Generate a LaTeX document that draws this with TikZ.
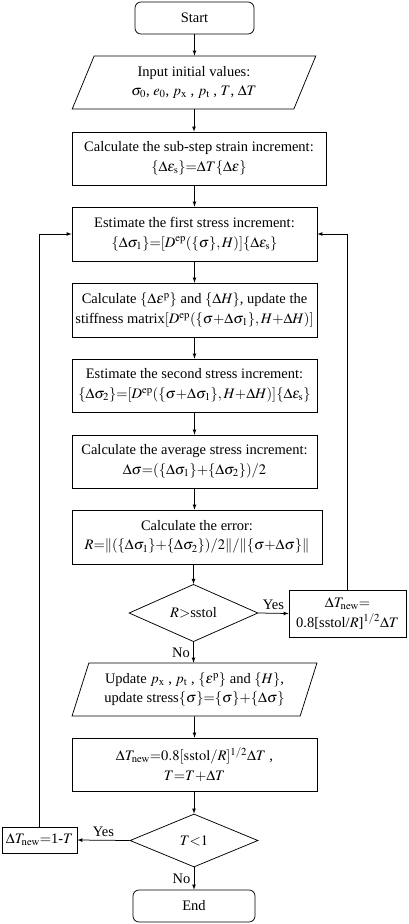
\documentclass[tikz,border=0pt]{standalone}
\usepackage{mathptmx}
\usepackage[no-math]{fontspec}
\setmainfont{Liberation Serif}
\usepackage{tikz}
\usetikzlibrary{positioning, shapes.geometric}

\begin{document}
\begin{tikzpicture}[x=1pt,y=-1pt,>=latex,line width=0.75pt]
	\tikzstyle{txt}=[font=\fontsize{14.5}{19.5}\selectfont]
	\tikzstyle{box}=[txt,rectangle,draw=black,align=center,inner sep=1pt]
	\tikzstyle{term}=[box,rounded corners=6pt]
	\tikzstyle{io}=[txt,trapezium,trapezium left angle=68,trapezium right angle=112,trapezium stretches=true,draw=black,align=center,inner sep=1pt]
	\tikzstyle{test}=[txt,diamond,draw=black,inner sep=0pt]
	\useasboundingbox (0,0) rectangle (408,924);
	\node[term,minimum width=119,minimum height=32](start) at (194.5,18) {Start};
	\node[io,minimum width=244,minimum height=53](input) at (194,82.5) {Input initial values:\\ $\sigma_0$, $e_0$, $p_\mathrm{x}$ , $p_\mathrm{t}$ , $T$, $\Delta T$};
	\node[box,minimum width=254,minimum height=53](sub) at (199,158.5) {Calculate the sub-step strain increment:\\ $\{\Delta\varepsilon_\mathrm{s}\}{=}\Delta T\{\Delta\varepsilon\}$};
	\node[box,minimum width=245,minimum height=54](est1) at (194.5,234) {Estimate the first stress increment:\\ $\{\Delta\sigma_1\}{=}[D^\mathrm{ep}(\{\sigma\},H)]\{\Delta\varepsilon_\mathrm{s}\}$};
	\node[box,minimum width=245,minimum height=54](upd1) at (194.5,310) {Calculate $\{\Delta\varepsilon^\mathrm{p}\}$ and $\{\Delta H\}$, update the\\ stiffness matrix$[D^\mathrm{ep}(\{\sigma{+}\Delta\sigma_1\},H{+}\Delta H)]$};
	\node[box,minimum width=245,minimum height=53](est2) at (194.5,385.5) {Estimate the second stress increment:\\ $\{\Delta\sigma_2\}{=}[D^\mathrm{ep}(\{\sigma{+}\Delta\sigma_1\},H{+}\Delta H)]\{\Delta\varepsilon_\mathrm{s}\}$};
	\node[box,minimum width=245,minimum height=53](avg) at (194.5,461.5) {Calculate the average stress increment:\\ $\Delta\sigma{=}(\{\Delta\sigma_1\}{+}\{\Delta\sigma_2\})/2$};
	\node[box,minimum width=250,minimum height=54](err) at (197,537) {Calculate the error:\\ $R{=}\|(\{\Delta\sigma_1\}{+}\{\Delta\sigma_2\})/2\|/\|\{\sigma{+}\Delta\sigma\}\|$};
	\node[test,minimum width=129,minimum height=52](chk1) at (193.5,613) {$R{>}$sstol};
	\node[box,minimum width=117,minimum height=47](newT1) at (347.5,613.5) {$\Delta T_\mathrm{new}{=}$\\ 0.8[sstol/$R$]$^{1/2}\Delta T$};
	\node[io,minimum width=245,minimum height=53](upd2) at (194.5,689.5) {Update $p_\mathrm{x}$ ,\ $p_\mathrm{t}$ ,\ $\{\varepsilon^\mathrm{p}\}$ and $\{H\}$,\\ update stress$\{\sigma\}{=}\{\sigma\}{+}\{\Delta\sigma\}$};
	\node[box,minimum width=245,minimum height=53](newT2) at (194.5,764.5) {$\Delta T_\mathrm{new}{=}0.8[\mathrm{sstol}/R]^{1/2}\Delta T$ ,\\ $T{=}T{+}\Delta T$};
	\node[test,minimum width=128,minimum height=53](chk2) at (194,840.5) {$T{<}1$};
	\node[box,minimum width=75,minimum height=26](newT3) at (39.5,840) {$\Delta T_\mathrm{new}{=}$1-$T$};
	\node[term,minimum width=122,minimum height=32](stop) at (194,906) {End};
	\draw[->](start.south) -- (start.south |- input.north);
	\draw[->](input.south) -- (input.south |- sub.north);
	\draw[->](sub.south -| est1.north) -- (est1.north);
	\draw[->](est1.south) -- (upd1.north);
	\draw[->](upd1.south) -- (est2.north);
	\draw[->](est2.south) -- (avg.north);
	\draw[->](avg.south) -- (avg.south |- err.north);
	\draw[->](err.south -| chk1.north) -- (chk1.north);
	\draw[->](chk1.east) -- (newT1.west) node[txt,midway,above]{Yes};
	\draw[->](newT1.north) |- (est1.east);
	\draw[->](chk1.south) -- (chk1.south |- upd2.north) node[txt,midway,left]{No};
	\draw[->](upd2.south) -- (newT2.north);
	\draw[->](newT2.south) -- (newT2.south -| chk2.north) -- (chk2.north);
	\draw[->](chk2.west) -- (newT3.east) node[txt,midway,above]{Yes};
	\draw[->](newT3.north) |- (est1.west);
	\draw[->](chk2.south) -- (stop.north) node[txt,midway,left]{No};
\end{tikzpicture}
\end{document}
